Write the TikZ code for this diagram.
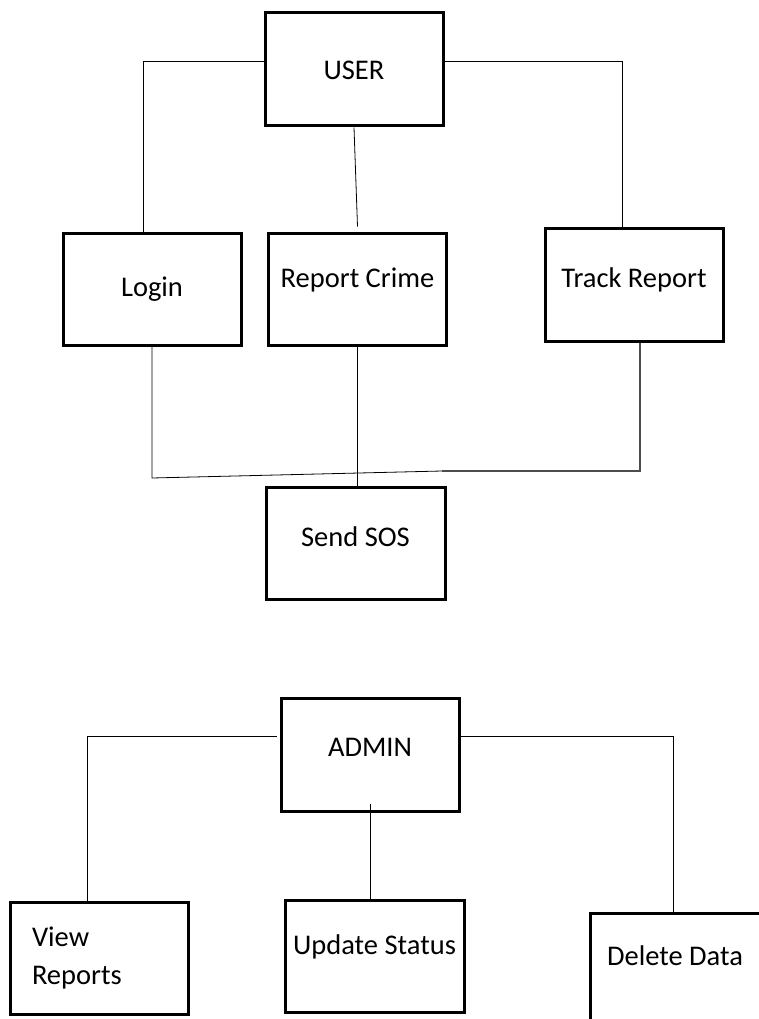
\documentclass[tikz,border=0pt]{standalone}
\usepackage{fontspec}
\setmainfont{Carlito}
\begin{document}
\begin{tikzpicture}[x=1pt, y=-1pt,
  boxbase/.style={draw, line width=3pt, minimum width=178pt, minimum height=112pt, inner sep=2pt, font=\fontsize{28.5}{38}\selectfont},
  box/.style={boxbase, text height=20pt, text depth=#1},
  box/.default=2pt,
  link/.style={line width=0.8pt},
  greylink/.style={line width=2pt, black!70}]
\useasboundingbox (0,0) rectangle (758,1019);

\draw node[box=0pt, minimum height=113pt] (USER) at (354,69.5) {USER};
\draw node[box=6.6pt] (Login) at (152,289.5) {Login};
\draw node[box=23.6pt] (Report) at (357.5,289) {Report Crime};
\draw node[box=14.6pt, minimum height=113pt] (Track) at (634,284.5) {Track Report};
\draw node[box=13.6pt, minimum width=179pt] (SOS) at (355.5,543) {Send SOS};

\draw node[box=16.6pt, minimum height=113pt] (ADMIN) at (370,754.5) {ADMIN};
\draw node[boxbase, text width=134pt, align=left] (View) at (99,958) {View\\Reports};
\draw node[box=23.6pt, minimum width=179pt] (Update) at (374.5,956) {Update Status};
\draw node[box=27.6pt, minimum width=170pt] (Delete) at (675,969) {Delete Data};

\coordinate (userL) at (143,61);
\coordinate (userR) at (622,61);
\coordinate (sosL) at (152,478);
\coordinate (sosM) at (442,471);
\coordinate (sosR) at (640,471);
\coordinate (adminL) at (87,736);
\coordinate (adminR) at (673,736);

\draw[link] (USER.west |- userL) -- (userL) -- (userL |- Login.north);
\draw[link] (USER.east |- userR) -- (userR) -- (userR |- Track.north);
\draw[link] (USER.south) -- ([yshift=5pt]Report.north);
\draw[link] (Report.south) -- (Report.south |- SOS.north);
\draw[link] (Login.south) -- (sosL) -- (sosM);
\draw[greylink] (sosM) -- (sosR) -- (sosR |- Track.south);

\draw[link, shorten >=3pt] (adminL |- View.north) -- (adminL) -- (adminL -| ADMIN.west);
\draw[link, shorten >=-3pt] (adminR |- Delete.north) -- (adminR) -- (adminR -| ADMIN.east);
\draw[link] ([yshift=9pt]ADMIN.south) -- (ADMIN.south |- Update.north);

\end{tikzpicture}
\end{document}
